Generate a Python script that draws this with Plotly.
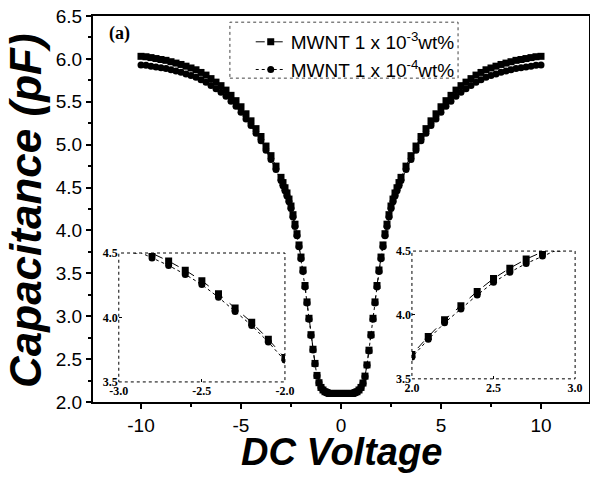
import plotly.graph_objects as go

# ---- data ----
voltage = [-10, -9.75, -9.5, -9.25, -9, -8.75, -8.5, -8.25, -8, -7.75, -7.5, -7.25, -7,
           -6.75, -6.5, -6.25, -6, -5.75, -5.5, -5.25, -5, -4.75, -4.5, -4.25, -4, -3.75,
           -3.5, -3.25,
           -3.0, -2.9, -2.8, -2.7, -2.6, -2.5, -2.4, -2.3, -2.2, -2.1, -2.0, -1.9, -1.8,
           -1.7, -1.6, -1.5, -1.4, -1.3, -1.2, -1.1, -1.0, -0.9, -0.8, -0.7, -0.6, -0.5,
           -0.4, -0.3, -0.2, -0.1, 0.0,
           0.1, 0.2, 0.3, 0.4, 0.5, 0.6, 0.7, 0.8, 0.9, 1.0, 1.1, 1.2, 1.3, 1.4, 1.5,
           1.6, 1.7, 1.8, 1.9, 2.0, 2.1, 2.2, 2.3, 2.4, 2.5, 2.6, 2.7, 2.8, 2.9, 3.0,
           3.25, 3.5, 3.75, 4, 4.25, 4.5, 4.75, 5, 5.25, 5.5, 5.75, 6, 6.25, 6.5, 6.75,
           7, 7.25, 7.5, 7.75, 8, 8.25, 8.5, 8.75, 9, 9.25, 9.5, 9.75, 10]

cap_1e3 = [6.03, 6.025, 6.015, 6.004, 5.993, 5.983, 5.967, 5.951, 5.935, 5.915, 5.894,
           5.873, 5.842, 5.811, 5.77, 5.729, 5.688, 5.636, 5.575, 5.513, 5.442, 5.36,
           5.278, 5.187, 5.095, 4.984, 4.872, 4.75,
           4.619, 4.558, 4.498, 4.437, 4.366, 4.285, 4.184, 4.073, 3.962, 3.831, 3.69,
           3.539, 3.358, 3.167, 2.976, 2.785, 2.615, 2.45, 2.31, 2.225, 2.17, 2.14, 2.12,
           2.11, 2.10, 2.10, 2.10, 2.10, 2.10, 2.10, 2.10,
           2.10, 2.10, 2.10, 2.10, 2.10, 2.10, 2.11, 2.12, 2.14, 2.17, 2.221, 2.302,
           2.433, 2.604, 2.785, 2.976, 3.167, 3.358, 3.539, 3.69, 3.831, 3.962, 4.073,
           4.184, 4.285, 4.366, 4.437, 4.498, 4.558, 4.619,
           4.75, 4.872, 4.984, 5.095, 5.187, 5.278, 5.36, 5.442, 5.513, 5.575, 5.636,
           5.688, 5.729, 5.77, 5.811, 5.842, 5.873, 5.894, 5.915, 5.935, 5.951, 5.967,
           5.983, 5.993, 6.004, 6.015, 6.025, 6.03]

cap_1e4 = [5.93, 5.925, 5.915, 5.906, 5.897, 5.887, 5.873, 5.859, 5.845, 5.825, 5.806,
           5.787, 5.758, 5.729, 5.69, 5.651, 5.612, 5.564, 5.505, 5.447, 5.378, 5.30,
           5.222, 5.133, 5.045, 4.936, 4.828, 4.71,
           4.581, 4.522, 4.462, 4.403, 4.334, 4.255, 4.156, 4.047, 3.938, 3.809, 3.67,
           3.521, 3.342, 3.153, 2.964, 2.775, 2.605, 2.443, 2.306, 2.223, 2.17, 2.14,
           2.12, 2.11, 2.10, 2.10, 2.10, 2.10, 2.10, 2.10, 2.10,
           2.10, 2.10, 2.10, 2.10, 2.10, 2.10, 2.11, 2.12, 2.14, 2.17, 2.219, 2.298,
           2.427, 2.596, 2.775, 2.964, 3.153, 3.342, 3.521, 3.67, 3.809, 3.938, 4.047,
           4.156, 4.255, 4.334, 4.403, 4.462, 4.522, 4.581,
           4.71, 4.828, 4.936, 5.045, 5.133, 5.222, 5.30, 5.378, 5.447, 5.505, 5.564,
           5.612, 5.651, 5.69, 5.729, 5.758, 5.787, 5.806, 5.825, 5.845, 5.859, 5.873,
           5.887, 5.897, 5.906, 5.915, 5.925, 5.93]

series_names = ["MWNT 1 x 10<sup>-3</sup>wt%", "MWNT 1 x 10<sup>-4</sup>wt%"]
main_xticks = [-10, -5, 0, 5, 10]
main_xticktext = ["-10", "-5", "0", "5", "10"]
main_yticks = [2.0, 2.5, 3.0, 3.5, 4.0, 4.5, 5.0, 5.5, 6.0, 6.5]
inset_left_xticks = [-3.0, -2.5, -2.0]
inset_left_xtext = ["-3.0", "-2.5", "-2.0"]
inset_right_xticks = [2.0, 2.5, 3.0]
inset_yticks = [3.5, 4.0, 4.5]

SANS = "Liberation Sans, Arial, sans-serif"
SERIF = "Liberation Serif, Times New Roman, serif"

fig = go.Figure()

styles = [dict(symbol="square", dash="dash"), dict(symbol="circle", dash="dot")]
for (xa, ya, show, msize) in [("x", "y", True, 7), ("x2", "y2", False, 7), ("x3", "y3", False, 7)]:
    for vals, name, st in zip([cap_1e3, cap_1e4], series_names, styles):
        fig.add_trace(go.Scatter(
            x=voltage, y=vals, name=name, mode="lines+markers",
            xaxis=xa, yaxis=ya, showlegend=show,
            line=dict(color="black", width=1, dash=st["dash"]),
            marker=dict(symbol=st["symbol"], size=msize, color="black", line=dict(width=0)),
        ))

axis_common = dict(showgrid=False, zeroline=False, color="black", automargin=False)
inset_font = dict(family=SERIF, size=12, weight="bold", color="black")

fig.update_layout(
    width=590, height=478, autosize=False,
    margin=dict(l=93, r=1, t=16, b=76, autoexpand=False),
    paper_bgcolor="white", plot_bgcolor="white",
    font=dict(family=SANS, color="black"),
    xaxis=dict(**axis_common, domain=[0, 1], range=[-12.4, 12.4],
               tickvals=main_xticks, ticktext=main_xticktext,
               showline=True, linewidth=2, linecolor="black", mirror=True,
               ticks="outside", ticklen=5, tickwidth=1.5,
               minor=dict(dtick=2.5, tick0=0, ticks="outside", ticklen=3, tickcolor="black"),
               tickfont=dict(family=SANS, size=19)),
    yaxis=dict(**axis_common, domain=[0, 1], range=[2.0, 6.5], tickvals=main_yticks,
               tickformat=".1f",
               showline=True, linewidth=2, linecolor="black", mirror=True,
               ticks="outside", ticklen=5, tickwidth=1.5,
               minor=dict(dtick=0.25, tick0=0, ticks="outside", ticklen=3, tickcolor="black"),
               tickfont=dict(family=SANS, size=19)),
    xaxis2=dict(**axis_common, domain=[0.052, 0.387], anchor="y2", range=[-3.0, -2.0],
                tickvals=inset_left_xticks, ticktext=inset_left_xtext, showline=False,
                ticks="inside", ticklen=3, tickfont=inset_font),
    yaxis2=dict(**axis_common, domain=[0.052, 0.386], anchor="x2", range=[3.5, 4.5],
                tickvals=inset_yticks, tickformat=".1f", showline=False,
                ticks="inside", ticklen=3, tickfont=inset_font),
    xaxis3=dict(**axis_common, domain=[0.643, 0.972], anchor="y3", range=[2.0, 3.0],
                tickvals=inset_right_xticks, tickformat=".1f", showline=False,
                ticks="inside", ticklen=3, tickfont=inset_font),
    yaxis3=dict(**axis_common, domain=[0.06, 0.391], anchor="x3", range=[3.5, 4.5],
                tickvals=inset_yticks, tickformat=".1f", showline=False,
                ticks="inside", ticklen=3, tickfont=inset_font),
    legend=dict(x=0.318, y=0.982, xanchor="left", yanchor="top",
                bgcolor="rgba(255,255,255,0)", borderwidth=0,
                font=dict(family=SANS, size=19), tracegroupgap=0, itemwidth=30),
    showlegend=True,
)

# dotted frames of insets and legend
for xr, yr in [("x2", "y2"), ("x3", "y3")]:
    fig.add_shape(type="rect", xref=f"{xr} domain", yref=f"{yr} domain",
                  x0=0, x1=1, y0=0, y1=1, line=dict(color="black", width=1, dash="dot"))
fig.add_shape(type="rect", xref="paper", yref="paper", x0=0.276, x1=0.736, y0=0.839, y1=0.984,
              line=dict(color="#444", width=1, dash="dot"))

fig.add_annotation(text="<b>(a)</b>", xref="paper", yref="paper", x=0.028, y=0.955,
                   xanchor="left", yanchor="middle", showarrow=False,
                   font=dict(family=SERIF, size=18, color="black"))
fig.add_annotation(text="<b><i>Capacitance (pF)</i></b>", xref="paper", yref="paper",
                   x=-0.135, y=0.495, textangle=-90, xanchor="center", yanchor="middle",
                   showarrow=False, font=dict(family=SANS, size=44, color="black"))
fig.add_annotation(text="<b><i>DC Voltage</i></b>", xref="paper", yref="paper",
                   x=0.5, y=-0.13, xanchor="center", yanchor="middle",
                   showarrow=False, font=dict(family=SANS, size=38, color="black"))

fig.write_html(
    "out.html",
    config={"displayModeBar": False, "responsive": False},
    post_script="document.body.style.margin='0';document.body.style.overflow='hidden';",
)
